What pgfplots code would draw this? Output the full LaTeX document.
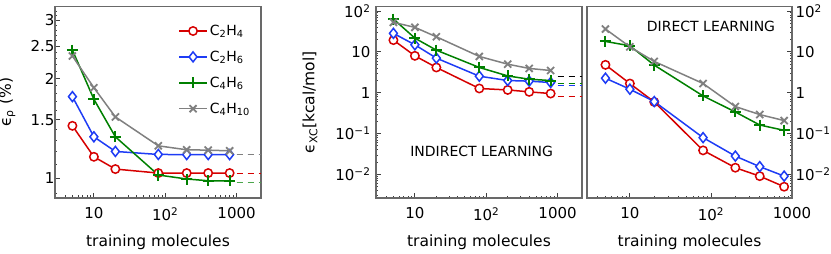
\documentclass[border=0pt]{standalone}
\usepackage{fontspec}
\setmainfont{DejaVu Sans}
\usepackage{pgfplots}
\pgfplotsset{compat=1.18}
\definecolor{cred}{RGB}{214,0,0}
\definecolor{cblue}{RGB}{30,60,245}
\definecolor{cgreen}{RGB}{0,128,0}
\definecolor{cgray}{RGB}{128,128,128}
\definecolor{spine}{RGB}{105,105,105}
\tikzset{
  sred/.style={cred, line width=1.5pt, mark=*, mark size=4.2pt, mark options={fill=white, solid}},
  sblue/.style={cblue, line width=1.5pt, mark=diamond*, mark size=5pt, mark options={fill=white, xscale=1.05, solid}},
  sgreen/.style={cgreen, line width=1.5pt, mark=+, mark size=5.5pt, mark options={line width=2pt, solid}},
  sgray/.style={cgray, line width=1.5pt, mark=x, mark size=5pt, mark options={line width=1.8pt, solid}},
  dsh/.style={line width=1.3pt, dash pattern=on 6pt off 5pt},
}
\pgfplotsset{legend image code/.code={\draw[mark repeat=2, mark phase=2, #1] plot coordinates {(0pt,0pt) (14pt,0pt) (28pt,0pt)};}}
\begin{document}
\begin{tikzpicture}
\path[use as bounding box] (0,0) rectangle (831pt,254pt);
% Panel 1
\begin{axis}[width=206pt, height=191.5pt, scale only axis, at={(55pt,56pt)}, anchor=south west,
  xmode=log, ymode=log,
  axis line style={spine, line width=1.3pt},
  tick style={black!75, line width=0.8pt},
  major tick length=5pt, minor tick length=2.5pt,
  tick align=inside,
  xtick pos=left, ytick pos=left,
  xtick={10,100,1000},
  xticklabels={10,10\textsuperscript{2},1000},
  minor xtick={4,5,6,7,8,9,20,30,40,50,60,70,80,90,200,300,400,500,600,700,800,900},
  ticklabel style={font=\fontsize{15}{18}\selectfont},
  xticklabel style={yshift=-6pt},
  yticklabel style={xshift=3pt},
  label style={font=\fontsize{15.5}{18}\selectfont},
  xlabel={training molecules},
  xlabel style={at={(axis description cs:0.5,-0.232)}, anchor=center},
  xmin=2.85, xmax=2200,
  ymin=0.87, ymax=3.3,
  ytick={1,1.5,2,2.5,3}, yticklabels={1,1.5,2,2.5,3},
  minor ytick={0.9,1.1,1.2,1.3,1.4,1.6,1.7,1.8,1.9,2.1,2.2,2.3,2.4,2.6,2.7,2.8,2.9,3.1,3.2},
  ylabel={ϵ\textsubscript{ρ} (\%)},
  ylabel style={at={(axis description cs:-0.232,0.5)}, anchor=center},
  legend style={at={(axis description cs:0.583,0.925)}, anchor=north west, draw=none, fill=none,
    font=\fontsize{14}{16}\selectfont, row sep=10pt},
  legend cell align=left,
]
\addplot[sred] coordinates {(5,1.438) (10,1.159) (20,1.064) (80,1.035) (200,1.035) (400,1.035) (800,1.035)};
\addplot[sblue] coordinates {(5,1.762) (10,1.332) (20,1.203) (80,1.178) (200,1.177) (400,1.177) (800,1.177)};
\addplot[sgreen] coordinates {(5,2.436) (10,1.73) (20,1.332) (80,1.021) (200,0.993) (400,0.981) (800,0.980)};
\addplot[sgray] coordinates {(5,2.337) (10,1.875) (20,1.53) (80,1.251) (200,1.217) (400,1.214) (800,1.208)};
\legend{C\textsubscript{2}H\textsubscript{4},C\textsubscript{2}H\textsubscript{6},C\textsubscript{4}H\textsubscript{6},C\textsubscript{4}H\textsubscript{10}}
\addplot[dsh, cred, forget plot] coordinates {(1000,1.032) (2200,1.032)};
\addplot[dsh, cgreen!70, forget plot] coordinates {(1000,0.970) (2200,0.970)};
\addplot[dsh, cblue, forget plot] coordinates {(1000,1.177) (2200,1.177)};
\addplot[dsh, cgray, forget plot] coordinates {(1000,1.180) (2200,1.180)};
\end{axis}
% Panel 2
\begin{axis}[width=206pt, height=191.5pt, scale only axis, at={(376pt,56pt)}, anchor=south west,
  xmode=log, ymode=log,
  axis line style={spine, line width=1.3pt},
  tick style={black!75, line width=0.8pt},
  major tick length=5pt, minor tick length=2.5pt,
  tick align=inside,
  xtick pos=left, ytick pos=left,
  xtick={10,100,1000},
  xticklabels={10,10\textsuperscript{2},1000},
  minor xtick={4,5,6,7,8,9,20,30,40,50,60,70,80,90,200,300,400,500,600,700,800,900},
  ticklabel style={font=\fontsize{15}{18}\selectfont},
  xticklabel style={yshift=-6pt},
  yticklabel style={xshift=-2pt},
  label style={font=\fontsize{15.5}{18}\selectfont},
  xlabel={training molecules},
  xlabel style={at={(axis description cs:0.5,-0.232)}, anchor=center},
  xmin=2.85, xmax=2200,
  ymin=0.00265, ymax=129,
  ytick={0.01,0.1,1,10,100},
  yticklabels={10\textsuperscript{−2},10\textsuperscript{−1},1,10,10\textsuperscript{2}},
  minor ytick={0.003,0.004,0.005,0.006,0.007,0.008,0.009,0.02,0.03,0.04,0.05,0.06,0.07,0.08,0.09,0.2,0.3,0.4,0.5,0.6,0.7,0.8,0.9,2,3,4,5,6,7,8,9,20,30,40,50,60,70,80,90},
  ylabel={ϵ\textsubscript{XC}[kcal/mol]},
  ylabel style={at={(axis description cs:-0.32,0.5)}, anchor=center},
]
\addplot[dsh, black] coordinates {(1000,2.5) (2200,2.5)};
\addplot[dsh, cgreen] coordinates {(1000,1.71) (2200,1.71)};
\addplot[dsh, cblue] coordinates {(1000,1.53) (2200,1.53)};
\addplot[dsh, cred] coordinates {(1000,0.81) (2200,0.81)};
\addplot[sred] coordinates {(5,19.4) (10,8.0) (20,4.15) (80,1.27) (200,1.17) (400,1.05) (800,0.955)};
\addplot[sblue] coordinates {(5,28.4) (10,14.9) (20,7.03) (80,2.54) (200,1.99) (400,1.92) (800,1.78)};
\addplot[sgreen] coordinates {(5,63.6) (10,21.7) (20,11.0) (80,4.15) (200,2.58) (400,2.14) (800,1.99)};
\addplot[sgray] coordinates {(5,52.8) (10,39.8) (20,23.4) (80,7.73) (200,5.0) (400,3.93) (800,3.5)};
\node[font=\fontsize{14}{16}\selectfont] at (axis description cs:0.513,0.242) {INDIRECT LEARNING};
\end{axis}
% Panel 3
\begin{axis}[width=205pt, height=191.5pt, scale only axis, at={(587pt,56pt)}, anchor=south west,
  xmode=log, ymode=log,
  axis line style={spine, line width=1.3pt},
  tick style={black!75, line width=0.8pt},
  major tick length=5pt, minor tick length=2.5pt,
  tick align=inside,
  xtick pos=left, ytick pos=right, yticklabel pos=right,
  xtick={10,100,1000},
  xticklabels={10,10\textsuperscript{2},1000},
  minor xtick={4,5,6,7,8,9,20,30,40,50,60,70,80,90,200,300,400,500,600,700,800,900},
  ticklabel style={font=\fontsize{15}{18}\selectfont},
  xticklabel style={yshift=-6pt},
  label style={font=\fontsize{15.5}{18}\selectfont},
  xlabel={training molecules},
  xlabel style={at={(axis description cs:0.5,-0.232)}, anchor=center},
  xmin=2.96, xmax=1000,
  ymin=0.00265, ymax=129,
  ytick={0.01,0.1,1,10,100},
  yticklabels={10\textsuperscript{−2},10\textsuperscript{−1},1,10,10\textsuperscript{2}},
  minor ytick={0.003,0.004,0.005,0.006,0.007,0.008,0.009,0.02,0.03,0.04,0.05,0.06,0.07,0.08,0.09,0.2,0.3,0.4,0.5,0.6,0.7,0.8,0.9,2,3,4,5,6,7,8,9,20,30,40,50,60,70,80,90},
]
\addplot[sred] coordinates {(5,4.81) (10,1.68) (20,0.594) (80,0.0388) (200,0.0146) (400,0.00908) (800,0.0050)};
\addplot[sblue] coordinates {(5,2.27) (10,1.22) (20,0.608) (80,0.0796) (200,0.0281) (400,0.0155) (800,0.0091)};
\addplot[sgreen] coordinates {(5,18.0) (10,14.1) (20,4.73) (80,0.835) (200,0.338) (400,0.162) (800,0.12)};
\addplot[sgray] coordinates {(5,36.2) (10,13.3) (20,5.83) (80,1.68) (200,0.458) (400,0.292) (800,0.208)};
\node[font=\fontsize{14}{16}\selectfont] at (axis description cs:0.605,0.894) {DIRECT LEARNING};
\end{axis}
\end{tikzpicture}
\end{document}
